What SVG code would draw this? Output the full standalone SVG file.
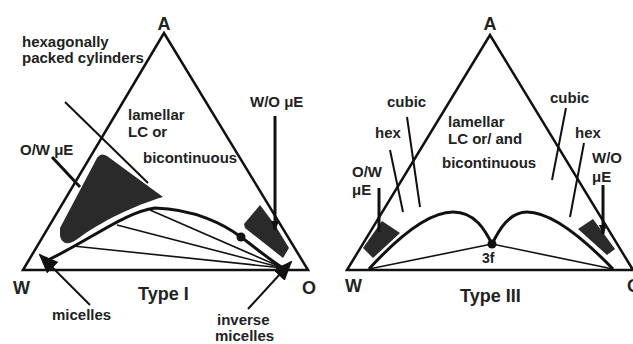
<svg xmlns="http://www.w3.org/2000/svg" width="633" height="344" viewBox="0 0 633 344">
<style>
text{font-family:"Liberation Sans",Arial,sans-serif;font-weight:bold;fill:#222;}
.t15{font-size:15px;}
.t18{font-size:18px;}
.tri{fill:none;stroke:#111;stroke-width:2.5;stroke-linejoin:miter;}
.curve{fill:none;stroke:#111;stroke-width:3;}
.tie{fill:none;stroke:#111;stroke-width:1.6;}
.lbl{fill:none;stroke:#111;stroke-width:2;}
.thick{fill:none;stroke:#111;stroke-width:3;}
.blob{fill:#2a2a2a;stroke:none;}
</style>
<defs>
<marker id="bigArrow" markerUnits="userSpaceOnUse" markerWidth="20" markerHeight="20" viewBox="0 0 20 20" refX="18" refY="10" orient="auto">
<path d="M0,2 L20,10 L0,18 Z" fill="#111"/>
</marker>
<marker id="smallArrow" markerUnits="userSpaceOnUse" markerWidth="10" markerHeight="10" viewBox="0 0 10 10" refX="9" refY="5" orient="auto">
<path d="M0,1 L10,5 L0,9 Z" fill="#111"/>
</marker>
</defs>
<rect width="633" height="344" fill="#fff"/>

<g id="typeI">
<g id="triangleI">
<path class="tri" d="M23,270 L164,33 L308,270 Z"/>
</g>
<g id="blobOW_I">
<path class="blob" d="M97,158 Q101,152 107,156 L163,197 C135,205 100,222 76,240 Q63,248 60,236 L60,228 Z"/>
</g>
<g id="blobWO_I">
<path class="blob" d="M260,205 L275,225 L289,248 L283,258 L245,228 L244,224 Z"/>
</g>
<g id="curveI">
<path class="curve" d="M48,260 C90,240 125,212 155,208 C195,209 225,225 241,237 S270,260 283,268"/>
<circle cx="241" cy="237" r="4.5" fill="#111"/>
</g>
<g id="labelsI">
<text class="t18" x="164" y="30" text-anchor="middle">A</text>
<text class="t15" x="22" y="47">hexagonally</text>
<text class="t15" x="22" y="63">packed cylinders</text>
<text class="t15" x="128" y="120">lamellar</text>
<text class="t15" x="128" y="137">LC or</text>
<text class="t15" x="143" y="163">bicontinuous</text>
<text class="t15" x="250" y="107">W/O μE</text>
<text class="t15" x="20" y="155">O/W μE</text>
<text class="t18" x="13" y="294">W</text>
<text class="t18" x="302" y="294">O</text>
<text class="t18" x="138" y="300">Type I</text>
<text class="t15" x="52" y="320">micelles</text>
<text class="t15" x="217" y="325">inverse</text>
<text class="t15" x="215" y="341">micelles</text>
</g>
</g>

<g id="typeIII">
<g id="triangleIII">
<path class="tri" d="M347,270 L490,35 L633,270 Z"/>
</g>
<g id="blobOW_III">
<path class="blob" d="M382,221 L400,233 L373,258 L363,248 Z"/>
</g>
<g id="blobWO_III">
<path class="blob" d="M578,229 L593,219 L615,249 L607,255 Z"/>
</g>
<g id="curveIII">
<path class="curve" d="M369,269 C400,235 430,212 453,212 C475,212 485,230 492,244 C499,230 509,212 527,212 C552,212 585,240 613,269"/>
<circle cx="492" cy="244" r="4.5" fill="#111"/>
</g>
<g id="labelsIII">
<text class="t18" x="490" y="30" text-anchor="middle">A</text>
<text class="t15" x="387" y="107">cubic</text>
<text class="t15" x="375" y="138">hex</text>
<text class="t15" x="448" y="127">lamellar</text>
<text class="t15" x="448" y="144">LC or/ and</text>
<text class="t15" x="442" y="168">bicontinuous</text>
<text class="t15" x="550" y="103">cubic</text>
<text class="t15" x="575" y="138">hex</text>
<text class="t15" x="592" y="163">W/O</text>
<text class="t15" x="592" y="182">μE</text>
<text class="t15" x="352" y="177">O/W</text>
<text class="t15" x="352" y="195">μE</text>
<text class="t18" x="345" y="292">W</text>
<text class="t18" x="627" y="292">O</text>
<text class="t18" x="460" y="302">Type III</text>
<text x="482" y="263" style="font-size:14px">3f</text>
</g>
</g>

<g id="connectors">
<line class="lbl" x1="65" y1="102" x2="148" y2="183"/>
<line class="thick" x1="52" y1="157" x2="80" y2="187"/>
<line class="thick" x1="275" y1="116" x2="275" y2="230" marker-end="url(#smallArrow)"/>
<line class="tie" x1="283" y1="268" x2="150" y2="210"/>
<line class="tie" x1="283" y1="268" x2="117" y2="225"/>
<line class="tie" x1="283" y1="268" x2="73" y2="246"/>
<line class="lbl" x1="90" y1="305" x2="40" y2="255" marker-end="url(#bigArrow)"/>
<line class="lbl" x1="248" y1="309" x2="291" y2="262" marker-end="url(#bigArrow)"/>
<line class="tie" x1="369" y1="269" x2="492" y2="244"/>
<line class="tie" x1="492" y1="244" x2="613" y2="269"/>
<line class="lbl" x1="407" y1="117" x2="420" y2="207"/>
<line class="lbl" x1="390" y1="150" x2="403" y2="212"/>
<line class="lbl" x1="566" y1="108" x2="552" y2="180"/>
<line class="lbl" x1="584" y1="143" x2="570" y2="217"/>
<line class="thick" x1="379" y1="188" x2="379" y2="232"/>
<line class="thick" x1="603" y1="185" x2="603" y2="234" marker-end="url(#smallArrow)"/>
</g>
</svg>
